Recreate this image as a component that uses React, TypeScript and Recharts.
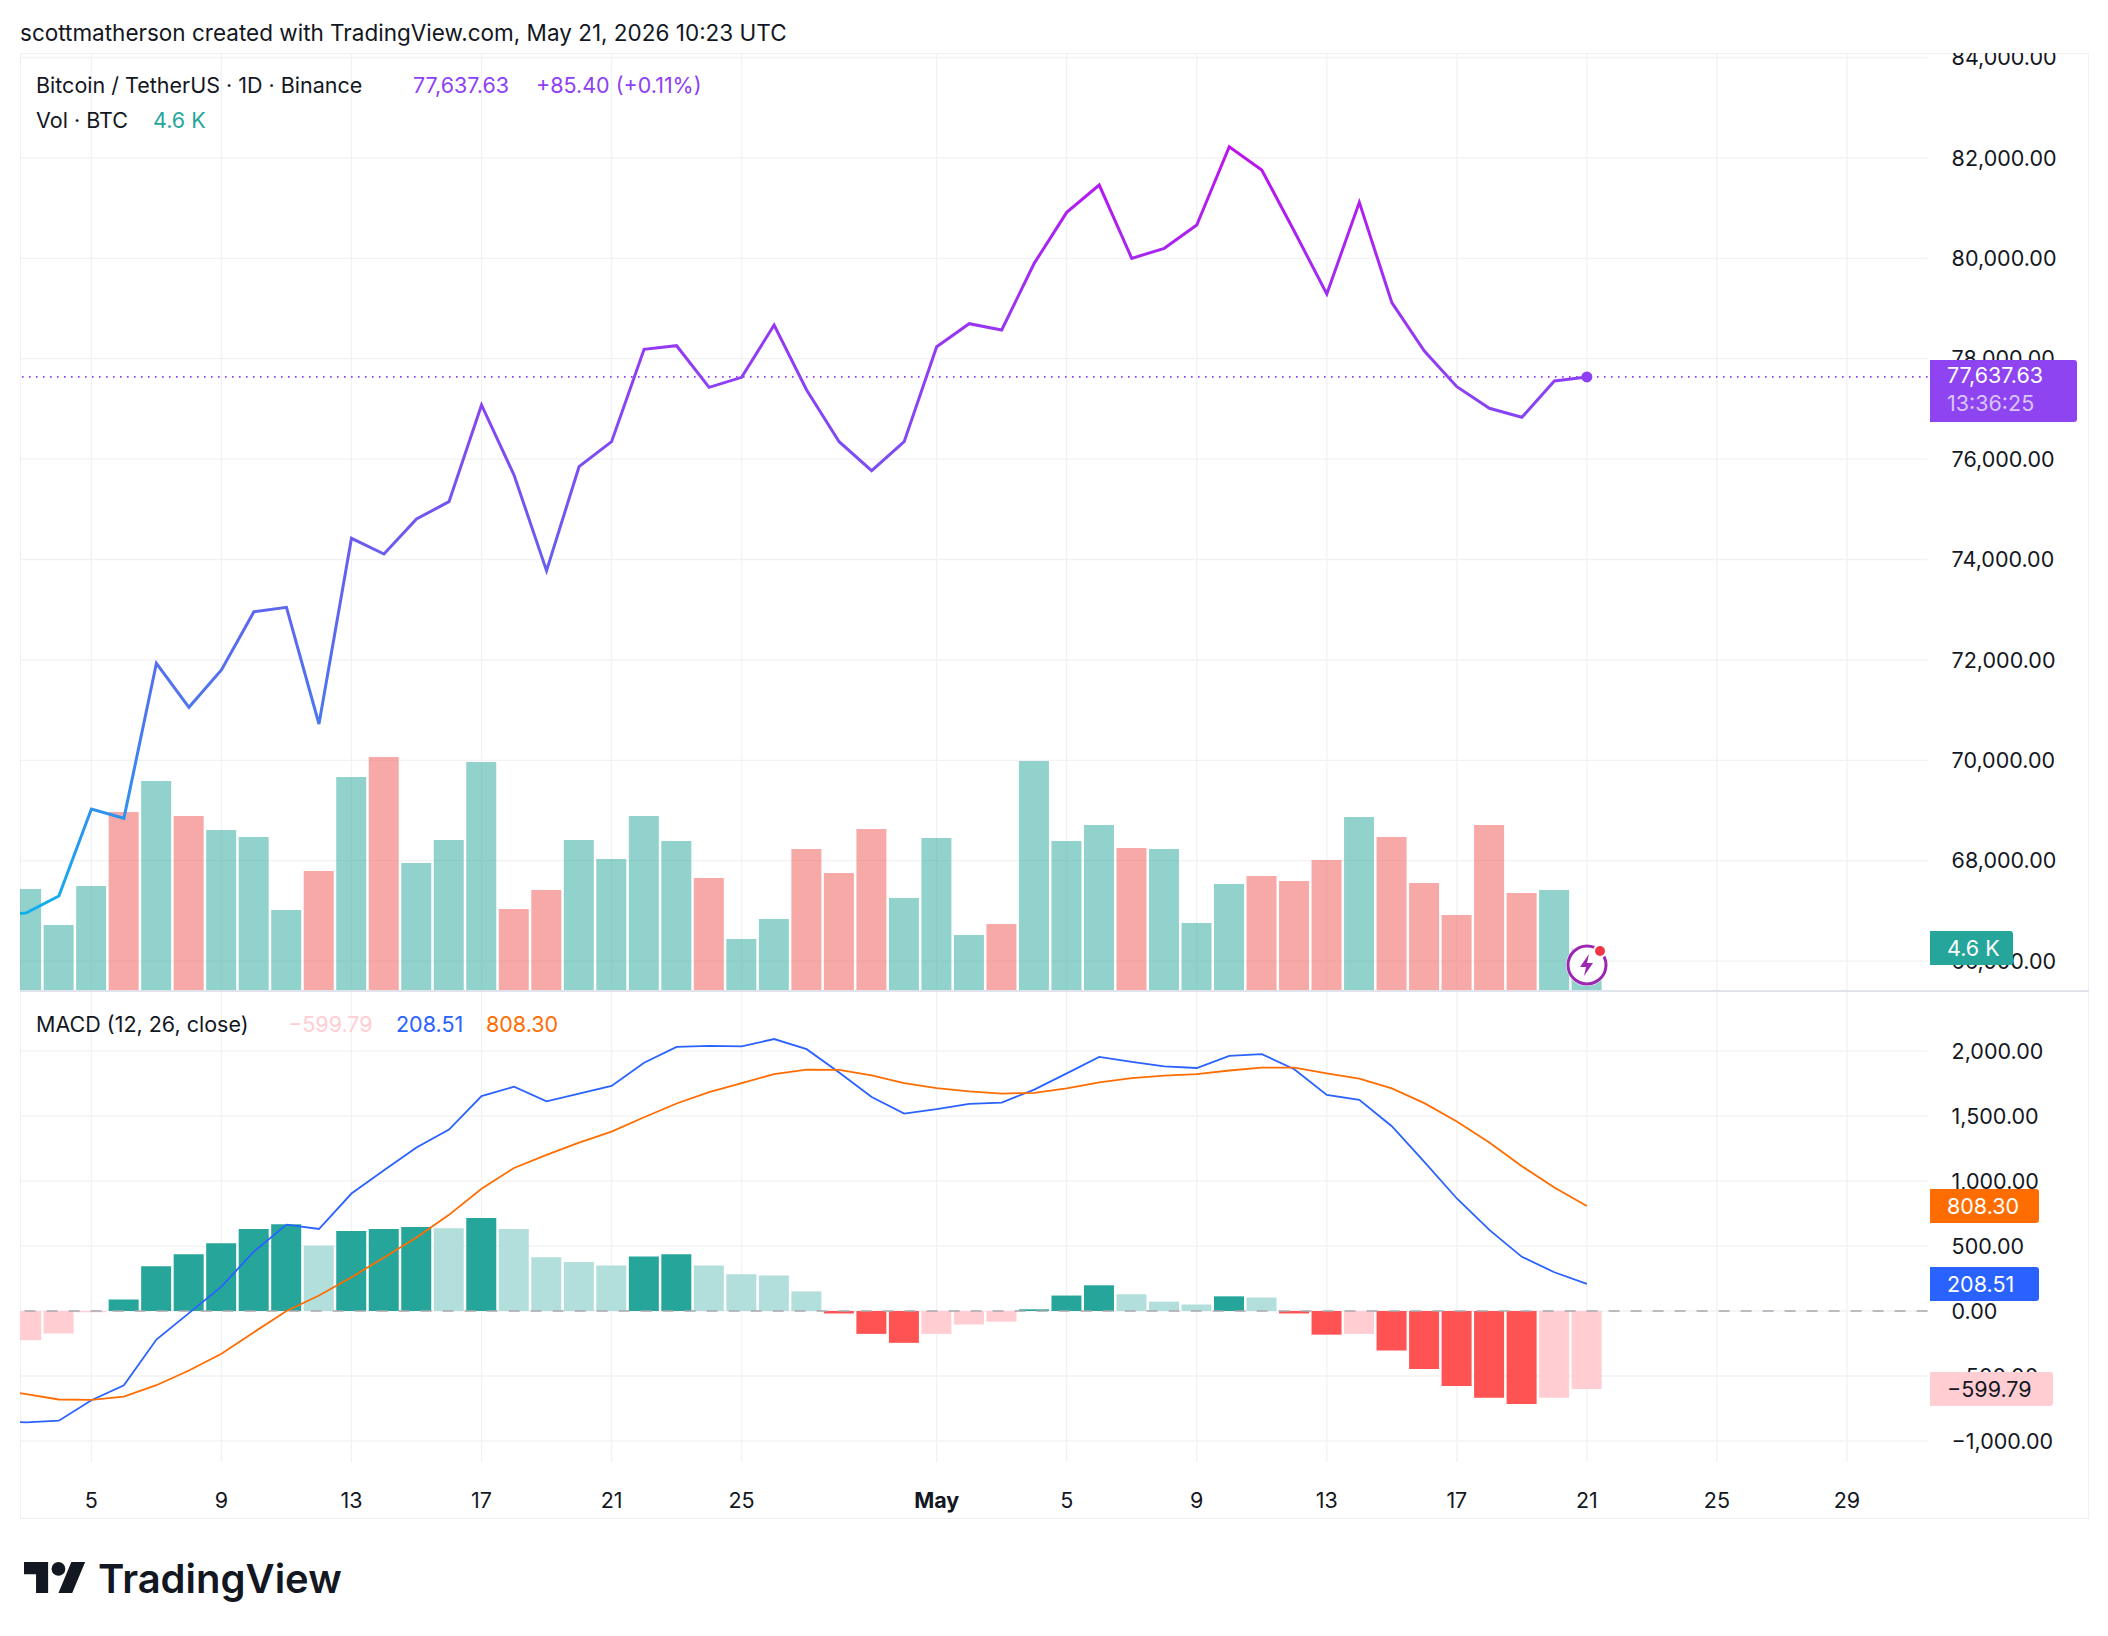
import React from 'react';
import { ComposedChart, Bar, Line, Cell, XAxis, YAxis, CartesianGrid, ReferenceLine, ReferenceDot } from 'recharts';

// day 5 = Apr 5, day 31 = May 1 ...
const days = [2,3,4,5,6,7,8,9,10,11,12,13,14,15,16,17,18,19,20,21,22,23,24,25,26,27,28,29,30,31,32,33,34,35,36,37,38,39,40,41,42,43,44,45,46,47,48,49,50,51];
const closes = [66900,66960,67297,69030,68845,71932,71055,71800,72960,73048,70723,74422,74110,74807,75152,77078,75683,73777,75849,76347,78187,78259,77430,77629,78671,77376,76347,75769,76347,78239,78697,78572,79900,80916,81460,80000,80199,80663,82223,81759,80540,79289,81115,79116,78153,77443,77012,76833,77556,77637.63];
const volumes = [12000,11250,7240,11585,19830,23280,19380,17820,17040,8910,13255,23730,25950,14150,16710,25400,9020,11140,16710,14590,19380,16600,12480,5680,7910,15700,13030,17930,10250,16930,6130,7350,25510,16600,18380,15820,15700,7460,11810,12700,12140,14480,19270,17040,11920,8350,18380,10800,11140,4600];
const histogram = [-260,-226,-173,-10,88,345,436,521,631,668,505,615,631,646,637,715,631,414,377,351,420,436,351,282,273,151,-19,-176,-245,-176,-104,-82,13,119,198,129,72,50,113,104,-19,-182,-176,-304,-446,-577,-668,-715,-668,-599.79];
const macd = [-850,-857,-844,-687,-571,-220,-16,188,458,665,631,904,1083,1258,1396,1654,1726,1613,1672,1732,1911,2033,2040,2037,2093,2015,1836,1647,1519,1553,1594,1604,1704,1829,1955,1917,1883,1870,1964,1977,1861,1663,1625,1422,1148,866,624,417,298,208.51];
const signal = [-600,-640,-681,-684,-659,-571,-458,-329,-163,0,119,260,411,565,740,941,1101,1202,1296,1381,1491,1597,1685,1754,1823,1858,1855,1814,1754,1716,1691,1673,1679,1713,1760,1792,1811,1823,1851,1873,1873,1829,1789,1713,1600,1459,1296,1114,951,808.3];

const xTicks = [5,9,13,17,21,25,31,35,39,43,47,51,55,59];
const xLabels = ['5','9','13','17','21','25','May','5','9','13','17','21','25','29'];
const priceTicks = [66000,68000,70000,72000,74000,76000,78000,80000,82000,84000];
const macdTicks = [-1000,-500,0,500,1000,1500,2000];
const lastPrice = 77637.63;

const priceData = days.map((day, i) => ({ day, close: closes[i], volume: volumes[i] }));
const macdData = days.map((day, i) => ({ day, histogram: histogram[i], macd: macd[i], signal: signal[i] }));

const FONT = 'Inter, sans-serif';
const GRID = '#f2f2f4';
const xDomain = [2.804, 61.48];

const fmt = (v: number) => (v < 0 ? '\u2212' : '') + Math.abs(v).toLocaleString('en-US', { minimumFractionDigits: 2, maximumFractionDigits: 2 });

const volColor = (i: number) => (i === 0 || closes[i] >= closes[i - 1] ? '#26a69a' : '#ef5350');
const histColor = (i: number) => {
    const v = histogram[i];
    const prev = i > 0 ? histogram[i - 1] : -300;
    if (v >= 0) return v > prev ? '#26a69a' : '#b2dfdb';
    return v < prev ? '#ff5252' : '#ffcdd2';
};

const XTick = (props: any) => {
    const { x, y, payload } = props;
    const label = xLabels[xTicks.indexOf(payload.value)];
    return (
        <text x={x} y={y + 38} textAnchor="middle" fontFamily={FONT} fontSize={21.5} fill="#131722" fontWeight={label === 'May' ? 700 : 400}>
            {label}
        </text>
    );
};

const Tag = ({ top, height, width, bg, color, children }: any) => (
    <div style={{ position: 'absolute', left: 1930, top, width, height, background: bg, color, borderRadius: '0 3px 3px 0', fontFamily: FONT, fontSize: 21.5, paddingLeft: 17, boxSizing: 'border-box', lineHeight: height + 'px', whiteSpace: 'nowrap' }}>
        {children}
    </div>
);

const Txt = ({ x, y, color = '#131722', size = 21.5, weight = 400, children }: any) => (
    <div style={{ position: 'absolute', left: x, top: y, transform: 'translateY(-50%)', color, fontFamily: FONT, fontSize: size, fontWeight: weight, whiteSpace: 'nowrap' }}>
        {children}
    </div>
);

const App: React.FC = () => {
    return (
        <div style={{ position: 'absolute', left: 0, top: 0, width: 2108, height: 1636, background: '#ffffff', overflow: 'hidden' }}>
            <Txt x={20} y={32} size={22.5}>scottmatherson created with TradingView.com, May 21, 2026 10:23 UTC</Txt>

            <div style={{ position: 'absolute', left: 20, top: 53, width: 2069, height: 1466, border: '1px solid #f0f0f2', boxSizing: 'border-box' }} />

            <div style={{ position: 'absolute', left: 0, top: 53 }}>
                <ComposedChart width={2089} height={937} data={priceData} margin={{ top: 0, right: 0, bottom: 0, left: 20 }}>
                    <defs>
                        <linearGradient id="priceGrad" x1="0" y1="0" x2="0" y2="1">
                            <stop offset="0%" stopColor="#bd12ee" />
                            <stop offset="30%" stopColor="#8e3ff5" />
                            <stop offset="55%" stopColor="#6660ee" />
                            <stop offset="75%" stopColor="#4a78ee" />
                            <stop offset="100%" stopColor="#0fb0ee" />
                        </linearGradient>
                    </defs>
                    <CartesianGrid stroke={GRID} strokeWidth={1.3} horizontalValues={priceTicks} verticalValues={xTicks} />
                    <XAxis dataKey="day" type="number" domain={xDomain} allowDataOverflow ticks={xTicks} hide />
                    <YAxis orientation="right" width={161.4} domain={[65424, 84090]} allowDataOverflow ticks={priceTicks} interval={0} axisLine={false} tickLine={false} tickMargin={18} tickFormatter={fmt} tick={{ fill: '#131722', fontSize: 21.5, fontFamily: FONT }} />
                    <YAxis yAxisId="vol" hide domain={[0, 104400]} allowDataOverflow />
                    <Bar yAxisId="vol" dataKey="volume" barSize={30} isAnimationActive={false}>
                        {days.map((d, i) => <Cell key={d} fill={volColor(i)} fillOpacity={0.5} />)}
                    </Bar>
                    <ReferenceLine y={lastPrice} stroke="#8e3ff5" strokeWidth={1.6} strokeDasharray="1.6 5.4" />
                    <Line dataKey="close" type="linear" stroke="url(#priceGrad)" strokeWidth={3} dot={false} isAnimationActive={false} />
                    <ReferenceDot x={51} y={lastPrice} r={5.5} fill="#8e3ff5" stroke="none" />
                </ComposedChart>
            </div>

            <div style={{ position: 'absolute', left: 20, top: 990, width: 2069, height: 2, background: '#e0e3eb' }} />

            <div style={{ position: 'absolute', left: 0, top: 992 }}>
                <ComposedChart width={2089} height={527} data={macdData} margin={{ top: 0, right: 0, bottom: 0, left: 20 }}>
                    <CartesianGrid stroke={GRID} strokeWidth={1.3} horizontalValues={macdTicks} verticalValues={xTicks} />
                    <XAxis dataKey="day" type="number" height={57} domain={xDomain} allowDataOverflow ticks={xTicks} interval={0} axisLine={false} tickLine={false} tick={<XTick />} />
                    <YAxis orientation="right" width={161.4} domain={[-1162, 2455]} allowDataOverflow ticks={macdTicks} interval={0} axisLine={false} tickLine={false} tickMargin={18} tickFormatter={fmt} tick={{ fill: '#131722', fontSize: 21.5, fontFamily: FONT }} />
                    <Bar dataKey="histogram" barSize={30} isAnimationActive={false}>
                        {days.map((d, i) => <Cell key={d} fill={histColor(i)} />)}
                    </Bar>
                    <ReferenceLine y={0} stroke="#a8a8ae" strokeWidth={1.5} strokeDasharray="11 11" />
                    <Line dataKey="macd" type="linear" stroke="#2962ff" strokeWidth={1.8} dot={false} isAnimationActive={false} />
                    <Line dataKey="signal" type="linear" stroke="#ff6d00" strokeWidth={1.8} dot={false} isAnimationActive={false} />
                </ComposedChart>
            </div>

            <Txt x={36} y={85}>Bitcoin / TetherUS · 1D · Binance</Txt>
            <Txt x={413} y={85} color="#8e3ff5">77,637.63</Txt>
            <Txt x={536} y={85} color="#8e3ff5">+85.40 (+0.11%)</Txt>
            <Txt x={36} y={120}>Vol · BTC</Txt>
            <Txt x={153} y={120} color="#26a69a">4.6 K</Txt>

            <Txt x={36} y={1024}>MACD (12, 26, close)</Txt>
            <Txt x={288} y={1024} color="#ffcdd2">{'\u2212'}599.79</Txt>
            <Txt x={396} y={1024} color="#2962ff">208.51</Txt>
            <Txt x={486} y={1024} color="#ff6d00">808.30</Txt>

            <div style={{ position: 'absolute', left: 1930, top: 360, width: 147, height: 62, background: '#8e44f0', borderRadius: '0 3px 3px 0', fontFamily: FONT, fontSize: 21.5, paddingLeft: 17, boxSizing: 'border-box', whiteSpace: 'nowrap' }}>
                <div style={{ color: '#ffffff', height: 31, lineHeight: '31px' }}>77,637.63</div>
                <div style={{ color: '#d9c4fa', height: 28, lineHeight: '25px' }}>13:36:25</div>
            </div>
            <Tag top={931} width={83} height={34} bg="#26a69a" color="#ffffff">4.6 K</Tag>
            <Tag top={1189} width={109} height={34} bg="#ff6d00" color="#ffffff">808.30</Tag>
            <Tag top={1267} width={109} height={34} bg="#2962ff" color="#ffffff">208.51</Tag>
            <Tag top={1372} width={123} height={34} bg="#ffcdd2" color="#131722">{'\u2212'}599.79</Tag>

            <svg style={{ position: 'absolute', left: 1560, top: 936 }} width={56} height={56}>
                <circle cx={27} cy={29} r={21} fill="#ffffff" />
                <circle cx={27} cy={29} r={19} fill="#ffffff" stroke="#9c27b0" strokeWidth={3} />
                <path d="M29 18 L20 31 L26 31 L24 40 L33 27 L27 27 Z" fill="#9c27b0" />
                <circle cx={40} cy={15} r={7} fill="#ffffff" />
                <circle cx={40} cy={15} r={5} fill="#f23645" />
            </svg>

            <svg style={{ position: 'absolute', left: 24, top: 1562 }} width={62} height={32} viewBox="0 4 36 18.5">
                <path d="M14 22H7V11H0V4h14v18zM28 22h-8l7.5-18h8L28 22z" fill="#131722" />
                <circle cx={20} cy={8} r={4} fill="#131722" />
            </svg>
            <Txt x={98} y={1578} size={40} weight={600}>TradingView</Txt>
        </div>
    );
};

export default App;
